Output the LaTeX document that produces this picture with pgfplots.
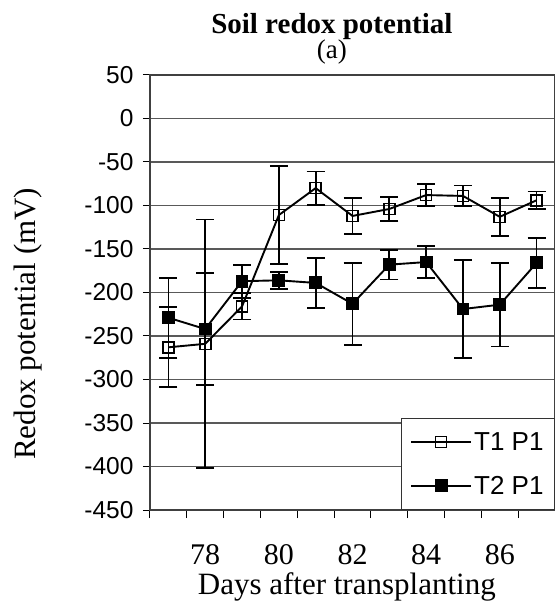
\documentclass[border=0pt]{standalone}
\usepackage{fontspec}
\setmainfont{Liberation Serif}
\setsansfont{Liberation Sans}
\usepackage{pgfplots}
\usepackage{pgfplotstable}
\pgfplotsset{compat=1.18}
\pgfplotstableread{
x t1 t1e t2 t2e
77 -263 46 -229 46
78 -259 143 -242 64
79 -216 15 -187 19
80 -111 56 -186 10
81 -80 19 -189 29
82 -112 21 -213 47
83 -104 14 -168 17
84 -88 13 -165 18
85 -89 12 -219 56
86 -113 22 -214 48
87 -94 10 -166 29
}\datatable
\begin{document}
\begin{tikzpicture}
\useasboundingbox (-150pt,-92pt) rectangle (404pt,510pt);
\begin{axis}[
  at={(0pt,0pt)}, anchor=south west,
  scale only axis, width=405pt, height=435pt,
  xmin=76.5, xmax=87.5, ymin=-450, ymax=50,
  xtick={78,80,82,84,86},
  xticklabels={78,80,82,84,86},
  minor xtick={76.5,77.5,...,87.5},
  major x tick style={draw=none},
  minor x tick style={black, line width=1pt},
  minor tick length=8pt,
  ytick={-450,-400,...,50},
  yticklabels={-450,-400,-350,-300,-250,-200,-150,-100,-50,0,50},
  tick align=outside, tickpos=left,
  major tick length=7pt,
  y tick style={black, line width=1pt},
  ymajorgrids, grid style={black!65, line width=1.1pt},
  axis line style={black!75, line width=1.2pt},
  xticklabel style={font=\fontsize{30}{34}\selectfont, anchor=base, yshift=-47pt, inner sep=0pt},
  yticklabel style={font=\sffamily\fontsize{24.5}{28}\selectfont, xshift=-6pt},
  xlabel={Days after transplanting},
  ylabel={Redox potential (mV)},
  label style={font=\fontsize{31}{36}\selectfont, inner sep=0pt},
  xlabel style={at={(axis description cs:0.486,-0.178)}, anchor=center},
  ylabel style={at={(axis description cs:-0.301,0.428)}, anchor=center},
  legend style={at={(1,0)}, anchor=south east, draw=black!80, line width=1pt,
    font=\sffamily\fontsize{26}{30}\selectfont, row sep=20pt, inner xsep=9pt, inner ysep=12pt},
  legend cell align=left,
  legend image code/.code={\draw[mark repeat=2,mark phase=2,#1] plot coordinates {(0pt,0pt) (30pt,0pt) (60pt,0pt)};},
  clip=false,
]
\addplot[black, line width=1.9pt, mark=square, mark size=5.5pt, mark options={solid, fill=white, line width=1.6pt},
  error bars/.cd, y dir=both, y explicit, error mark options={rotate=90, mark size=9pt, line width=1.8pt}, error bar style={line width=1.8pt}]
  table[x=x, y=t1, y error=t1e] {\datatable};
\addlegendentry{T1 P1}
\addplot[black, line width=1.9pt, mark=square*, mark size=5.5pt, mark options={solid, fill=black},
  error bars/.cd, y dir=both, y explicit, error mark options={rotate=90, mark size=9pt, line width=1.8pt}, error bar style={line width=1.8pt}]
  table[x=x, y=t2, y error=t2e] {\datatable};
\addlegendentry{T2 P1}
\node[anchor=base, inner sep=0pt, font=\bfseries\fontsize{29}{34}\selectfont] at (rel axis cs:0.449,1) [yshift=41pt] {Soil redox potential};
\node[anchor=base, inner sep=0pt, font=\fontsize{27}{32}\selectfont] at (rel axis cs:0.449,1) [yshift=16pt] {(a)};
\end{axis}
\end{tikzpicture}
\end{document}
